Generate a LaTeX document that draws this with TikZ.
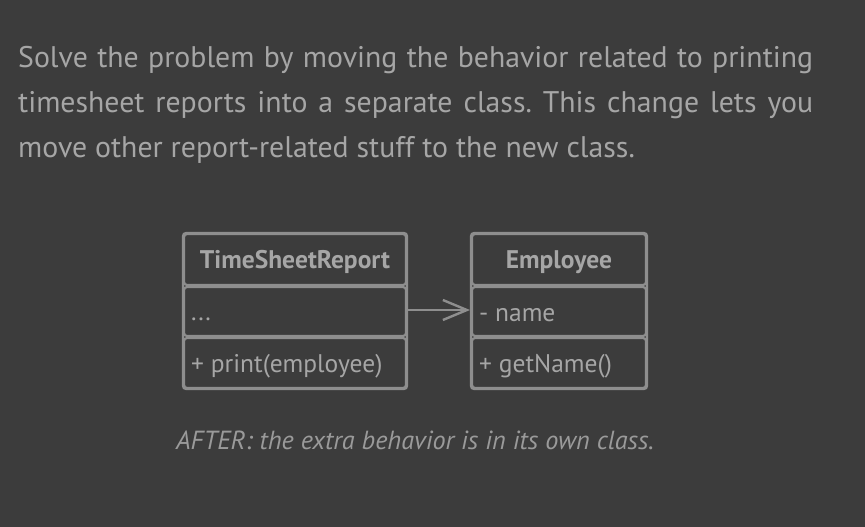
\documentclass[tikz,border=0pt]{standalone}
\usepackage{fontspec}
\setmainfont{PT Sans}
\usetikzlibrary{arrows.meta}
\definecolor{bg}{HTML}{3C3C3C}
\definecolor{txt}{HTML}{A6A6A6}
\definecolor{cap}{HTML}{9A9A9A}
\definecolor{ln}{HTML}{8E8E8E}
\frenchspacing
\begin{document}
\begin{tikzpicture}[x=1pt,y=-1pt,
  comp/.style={draw=ln,line width=2.2pt,rounded corners=3pt,inner sep=0pt},
  ctext/.style={text=txt,font=\fontsize{25.5}{30}\selectfont,inner sep=0pt},
  hdr/.style={text=txt,font=\fontsize{25.5}{30}\selectfont\bfseries,inner sep=0pt}]
\fill[bg] (0,0) rectangle (865,527);
\useasboundingbox (0,0) rectangle (865,527);
% paragraph
\node[anchor=north west,inner sep=0pt,text=txt,align=justify,text width=795pt,
  font=\fontsize{29.8}{45}\selectfont] (para) at (18,46)
  {Solve the problem by moving the behavior related to printing\linebreak
   timesheet reports into a separate class. This change lets you\linebreak
   move other report-related stuff to the new class.};
% TimeSheetReport
\draw[comp] (183,233) rectangle (407,389);
\draw[comp] (184,234) rectangle (406,285);
\draw[comp] (184,287) rectangle (406,336);
\draw[comp] (184,338) rectangle (406,388);
\node[hdr] (tsr) at (295,262) {TimeSheetReport};
\node[ctext,anchor=west] (tsra) at (191,319) {...};
\node[ctext,anchor=west] (tsrm) at (191,366) {+ print(employee)};
\coordinate (tsrR) at (407,310);
% Employee
\draw[comp] (471,233) rectangle (647,389);
\draw[comp] (472,234) rectangle (646,285);
\draw[comp] (472,287) rectangle (646,336);
\draw[comp] (472,338) rectangle (646,388);
\node[hdr] (emp) at (559,262) {Employee};
\node[ctext,anchor=west] (empa) at (479,315) {- name};
\node[ctext,anchor=west] (empm) at (479,366) {+ getName()};
\coordinate (empL) at (470,310);
\draw[ln,line width=2.4pt,-{Straight Barb[length=24pt,width=20pt,line width=2.4pt]}] (tsrR) -- (empL);
% caption
\node[text=cap,inner sep=0pt,font=\fontsize{26.2}{30}\selectfont\itshape] (caption) at (415,440)
  {AFTER: the extra behavior is in its own class.};
\end{tikzpicture}
\end{document}
